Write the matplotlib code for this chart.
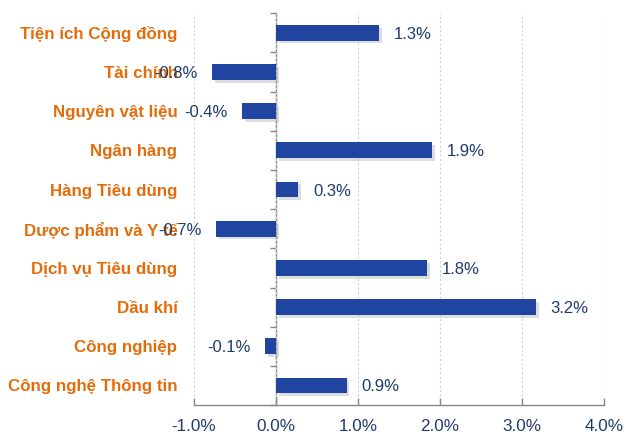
import matplotlib
matplotlib.use("Agg")
import matplotlib.pyplot as plt
import matplotlib.patheffects as pe
import numpy as np

categories = ["Tiện ích Cộng đồng", "Tài chính", "Nguyên vật liệu", "Ngân hàng",
              "Hàng Tiêu dùng", "Dược phẩm và Y tế", "Dịch vụ Tiêu dùng", "Dầu khí",
              "Công nghiệp", "Công nghệ Thông tin"]
values = [1.26, -0.78, -0.41, 1.90, 0.27, -0.73, 1.84, 3.17, -0.13, 0.86]
xticks = [-1.0, 0.0, 1.0, 2.0, 3.0, 4.0]

plt.rcParams['font.family'] = ['Liberation Sans', 'DejaVu Sans']

bar_color = '#1F45A0'
navy = '#1F3A6E'
orange = '#E46C0A'

fig = plt.figure(figsize=(6.26, 4.37), dpi=100)
ax = fig.add_axes([0.31, 0.073, 0.655, 0.897])

y = np.arange(len(categories))
bars = ax.barh(y, values, height=0.4, color=bar_color, zorder=3)
for b in bars:
    b.set_path_effects([pe.SimplePatchShadow(offset=(2, -2), shadow_rgbFace='#aaaaaa', alpha=0.4), pe.Normal()])

ax.set_xlim(-1.0, 4.0)
ax.set_ylim(len(categories) - 0.5, -0.5)

for yi, v in zip(y, values):
    off = 0.18
    if v >= 0:
        ax.text(v + off, yi, f"{v:.1f}%", ha='left', va='center_baseline', color=navy, fontsize=12, zorder=4)
    else:
        ax.text(v - off, yi, f"{v:.1f}%", ha='right', va='center_baseline', color=navy, fontsize=12, zorder=4)

ax.set_xticks(xticks)
ax.set_xticklabels([f"{t:.1f}%" for t in xticks], color=navy, fontsize=12.3)
ax.tick_params(axis='x', direction='in', length=5, color='#888888', width=1, pad=10)

ax.set_yticks(y)
ax.set_yticklabels(categories, color=orange, fontsize=12.2, fontweight='bold')
ax.tick_params(axis='y', length=0, pad=12)

for s in ['top', 'right', 'left']:
    ax.spines[s].set_visible(False)
ax.spines['bottom'].set_color('#888888')
ax.spines['bottom'].set_linewidth(1)

ax.grid(axis='x', color='#D0D0D0', linestyle=(0, (2, 2)), linewidth=0.8, zorder=0)
ax.grid(axis='y', visible=False)

# vertical axis at zero with ticks at category boundaries
sec = ax.secondary_yaxis(0.2)
sec.set_yticks(np.arange(-0.5, len(categories), 1.0))
sec.set_yticklabels([])
sec.tick_params(axis='y', direction='out', length=4, color='#888888', width=1)
sec.spines['left'].set_color('#888888')
sec.spines['left'].set_linewidth(1)

fig.savefig("out.png", dpi=100)
